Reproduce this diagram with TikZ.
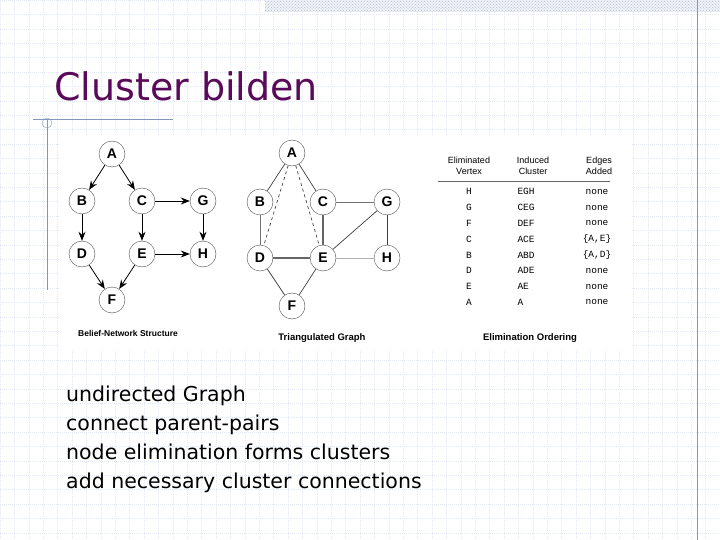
\documentclass[tikz,border=0pt]{standalone}
\usepackage{fontspec}
\setmainfont{DejaVu Sans}
\newfontfamily\arialf{Liberation Sans}
\newfontfamily\courf{Liberation Mono}
\usetikzlibrary{arrows.meta,patterns}
\definecolor{gridc}{RGB}{228,232,240}
\definecolor{linec}{RGB}{130,150,190}
\definecolor{titlec}{RGB}{90,10,90}
\begin{document}
\begin{tikzpicture}[x=1pt,y=-1pt,
  nd/.style={circle,draw=black!70,fill=white,minimum size=26pt,inner sep=0pt,font=\arialf\bfseries\fontsize{14}{14}\selectfont},
  arr/.style={-{Stealth[length=9pt,width=7pt]},thick},
  ed/.style={black!75,line width=0.7pt},
  capt/.style={font=\arialf\bfseries\fontsize{8.5}{10}\selectfont},
  hd/.style={font=\arialf\fontsize{9}{11}\selectfont,align=center},
  tc/.style={font=\courf\fontsize{9.5}{10}\selectfont}]
\useasboundingbox (0,0) rectangle (720,540);
\fill[white] (0,0) rectangle (720,540);
\foreach \k in {0,...,50} {\draw[gridc,line width=0.5pt,dash pattern=on 1pt off 1pt] (\k*14.4,0) -- (\k*14.4,540);}
\foreach \k in {0,...,38} {\draw[gridc,line width=0.5pt,dash pattern=on 1pt off 1pt] (0,\k*14.4) -- (720,\k*14.4);}
\fill[gridc!60] (265,0) rectangle (720,12);
\fill[pattern=crosshatch dots,pattern color=linec!60] (265,0) rectangle (720,12);
\draw[linec] (697,0) -- (697,540);
\draw[linec] (33,119) -- (173,119);
\draw[linec] (47,119) -- (47,290);
\draw[linec] (47,123) circle (5);
\node[anchor=base west,text=titlec,font=\fontsize{38}{38}\selectfont,inner sep=0] (t) at (54,101) {Cluster bilden};
\fill[white] (60,135) rectangle (632,350);
% graph 1
\node[nd] (A) at (112,154) {A};
\node[nd] (B) at (82,201) {B};
\node[nd] (C) at (142,201) {C};
\node[nd] (G) at (203,201) {G};
\node[nd] (D) at (82,254) {D};
\node[nd] (E) at (142,254) {E};
\node[nd] (H) at (203,254) {H};
\node[nd] (F) at (112,300) {F};
\draw[arr] (A)--(B); \draw[arr] (A)--(C); \draw[arr] (C)--(G);
\draw[arr] (B)--(D); \draw[arr] (C)--(E); \draw[arr] (G)--(H);
\draw[arr] (E)--(H); \draw[arr] (D)--(F); \draw[arr] (E)--(F);
\node[capt] (c1) at (128,333) {Belief-Network Structure};
% graph 2
\node[nd] (A2) at (292,153) {A};
\node[nd] (B2) at (260,202) {B};
\node[nd] (C2) at (323,202) {C};
\node[nd] (G2) at (387,202) {G};
\node[nd] (D2) at (260,258) {D};
\node[nd] (E2) at (323,258) {E};
\node[nd] (H2) at (387,258) {H};
\node[nd] (F2) at (292,306) {F};
\draw[ed] (A2)--(B2); \draw[ed] (A2)--(C2);
\draw[ed,dashed] (A2)--(D2); \draw[ed,dashed] (A2)--(E2);
\draw[ed,black!55] (B2)--(D2); \draw[ed,black!60,line width=1.2pt] (C2)--(E2);
\draw[ed,black!60,line width=1.2pt] (D2)--(E2);
\draw[ed,black!55] (C2)--(G2); \draw[ed] (G2)--(E2); \draw[ed] (G2)--(H2);
\draw[ed,black!30] (E2)--(H2); \draw[ed] (D2)--(F2); \draw[ed] (E2)--(F2);
\node[capt,font=\arialf\bfseries\fontsize{9.5}{11}\selectfont] (c2) at (322,338) {Triangulated Graph};
% table
\node[hd] (h1) at (469,166) {Eliminated\\Vertex};
\node[hd] (h2) at (533,166) {Induced\\Cluster};
\node[hd] (h3) at (599,166) {Edges\\Added};
\draw[black!60,line width=0.6pt] (438,181) -- (610,181);
\foreach \v/\c/\e [count=\i] in {H/EGH/none,G/CEG/none,F/DEF/none,C/ACE/{\{A,E\}},B/ABD/{\{A,D\}},D/ADE/none,E/AE/none,A/A/none}{
  \node[tc] (v\i) at (469,176+15.8*\i) {\v};
  \node[tc,anchor=west] (k\i) at (514,176+15.8*\i) {\c};
  \node[tc] (e\i) at (597,176+15.8*\i) {\e};
}
\node[capt,font=\arialf\bfseries\fontsize{9.5}{11}\selectfont] (c3) at (530,338) {Elimination Ordering};
% bullets text
\node[anchor=base west,inner sep=0,font=\fontsize{20.5}{20}\selectfont] (t1) at (66,401) {undirected Graph};
\node[anchor=base west,inner sep=0,font=\fontsize{20.5}{20}\selectfont] (t2) at (66,430) {connect parent-pairs};
\node[anchor=base west,inner sep=0,font=\fontsize{20.5}{20}\selectfont] (t3) at (66,459) {node elimination forms clusters};
\node[anchor=base west,inner sep=0,font=\fontsize{20.5}{20}\selectfont] (t4) at (66,488) {add necessary cluster connections};
\end{tikzpicture}
\end{document}
